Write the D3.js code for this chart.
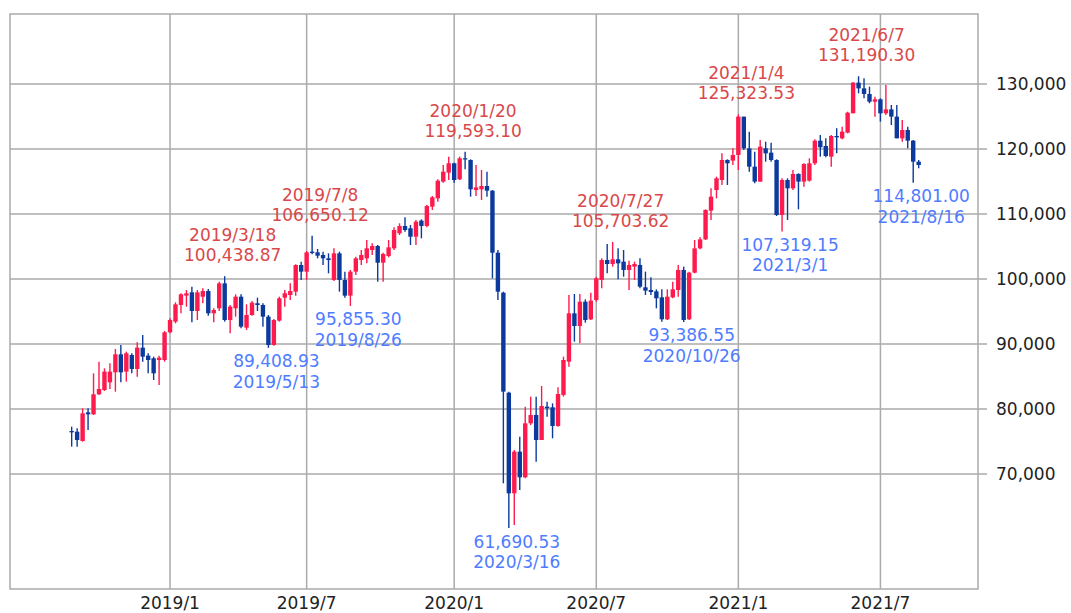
<!DOCTYPE html>
<html>
<head>
<meta charset="utf-8">
<script src="https://cdn.jsdelivr.net/npm/d3@7"></script>
<style>
  body { margin: 0; background: #fff; }
  text { font-family: "DejaVu Sans", Verdana, sans-serif; }
</style>
</head>
<body>
<div id="chart"></div>
<script>
// weekly candles, first week 2018/9/3, last week 2021/8/23
const firstWeek = "2018/9/3";
const lastWeek = "2021/8/23";

const open = [76620,76510,75080,79490,79180,82260,82920,84100,85640,88410,
  85750,88310,86160,89440,88210,87800,87540,87540,91800,93440,
  96000,97440,97950,95080,97280,98150,94720,95490,99330,93690,
  95490,97280,92510,94460,96260,96000,94210,89850,93590,97130,
  97540,98050,102150,101130,104210,104100,103690,103180,99850,103950,
  99850,97440,101130,102920,103180,104460,105080,102510,103540,104720,
  107030,108160,107800,106510,108980,108160,111130,112410,114980,116360,
  117800,115330,118570,118310,113690,113800,114310,113590,104050,97900,
  82510,67030,73440,69490,77800,79080,75230,80360,80260,77390,
  82160,87280,94720,92770,96510,93800,96770,99850,102920,102310,
  103030,102670,101390,101900,102160,98720,98310,98100,97180,93800,
  97180,98310,101390,93800,100980,104720,106100,110510,113690,115230,
  118310,118210,119080,124980,120100,117280,114980,120100,119440,118310,
  109850,115230,113950,116160,114980,115130,117800,121280,120460,118820,
  122000,121640,122510,125490,130210,129330,128460,127280,127640,125490,
  126100,124980,121640,122920,121280,118050];

const high = [77280,77030,80100,80100,85490,87280,86260,87030,89230,89850,
  88820,88570,90260,91390,88570,88050,88210,92000,93950,96410,
  97800,98310,98820,98310,98570,98460,95490,99590,100438.87,96000,
  97640,97640,96100,96620,97130,96260,94460,93850,97280,98310,
  99330,102260,102670,104310,106650.12,104620,104210,103950,104720,104210,
  101130,101390,103440,104460,106000,105490,105230,104050,106000,107950,
  108570,109490,108310,109080,109180,111390,112770,115330,117540,118820,
  117900,118820,119593.10,118410,117540,116770,116510,113690,104460,98050,
  82670,73690,75750,80360,81900,81900,83540,81130,80870,83360,
  88050,97540,97690,97690,96870,97900,100360,103180,105390,105703.62,
  104720,104460,102820,102670,103180,101130,100260,98410,98410,98410,
  99590,102150,101900,101130,106000,106410,110720,113950,115740,119330,
  118410,120100,125323.53,124980,122670,119590,121390,121130,120980,118410,
  115490,115490,116770,116260,117800,118570,121490,122150,121640,122150,
  123180,123440,125740,130310,131190.30,130870,129590,128050,127800,129850,
  126770,126770,124460,123440,121390,118310];

const low = [74210,74210,74980,76770,79080,82160,82770,83080,82670,84100,
  84210,85490,84980,87280,85490,84460,83690,87280,91640,93180,
  94720,95740,93330,93690,96260,94360,93330,95080,93440,91640,
  94210,92410,92160,94360,95080,92670,89408.93,89750,93440,95740,
  96770,97440,99850,99850,103800,103180,102150,100870,99690,98050,
  97130,95855.30,100620,102160,102410,103690,99590,99590,103330,104460,
  106770,107280,105230,105230,106260,107950,110620,111900,114820,115230,
  114820,115230,116870,112670,112770,112160,112670,100100,96770,68570,
  61690.53,62160,67540,69330,77540,71900,75230,78820,75490,77280,
  81900,86510,90360,90100,93280,93690,96510,98570,100870,101900,
  99950,100360,98310,99850,98570,97540,97540,95490,93440,93690,
  97030,97280,93386.55,93690,100870,104570,106000,109080,112410,114460,
  114460,117540,116770,119850,116510,114720,114980,118050,118050,109690,
  107319.15,109080,113690,110720,114210,114980,117540,118820,118720,117280,
  119330,121490,122410,125490,128560,127800,127030,124980,124210,125230,
  123690,121640,121130,120100,114801.00,117030];

const close = [76410,75230,79330,79180,82260,83080,85750,85750,88410,85640,
  88570,86160,89440,88050,87540,85490,87900,91800,93690,96100,
  97640,97800,95080,97950,98150,94720,95230,99330,93690,95750,
  97280,92670,94460,96360,96000,94210,89850,93690,97030,97800,
  98150,102150,101130,104100,104000,103590,103180,102920,103950,99850,
  97440,101130,103180,103690,104720,105080,102510,103850,104870,107540,
  108160,107540,106510,108820,108160,111230,112570,115130,116510,117800,
  115230,118570,118410,113800,114100,114310,113590,104050,98050,82670,
  67030,73440,69490,77800,79080,75230,80460,80100,77390,82310,
  87540,94720,92770,96510,93690,96670,100100,102920,102310,103030,
  102410,101390,102160,102310,98820,98210,98000,97030,93800,97280,
  98410,101390,93690,100980,104720,106100,110620,112670,115490,118310,
  117800,119080,124980,120100,117280,114980,120360,119330,118310,109850,
  115230,113950,116160,114980,117690,117800,121280,120260,118920,122000,
  121800,122670,125590,130210,129330,128460,127280,127640,125490,126100,
  124980,121640,122920,121280,118050,117540];

const highNotes = [
  ["2019/3/18", "100,438.87"], ["2019/7/8", "106,650.12"], ["2020/1/20", "119,593.10"],
  ["2020/7/27", "105,703.62"], ["2021/1/4", "125,323.53"], ["2021/6/7", "131,190.30"]
];
const lowNotes = [
  ["2019/5/13", "89,408.93"], ["2019/8/26", "95,855.30"], ["2020/3/16", "61,690.53"],
  ["2020/10/26", "93,386.55"], ["2021/3/1", "107,319.15"], ["2021/8/16", "114,801.00"]
];

const xTickDates = ["2019/1/7", "2019/7/1", "2020/1/6", "2020/7/6", "2021/1/4", "2021/7/5"];
const xTickLabels = ["2019/1", "2019/7", "2020/1", "2020/7", "2021/1", "2021/7"];
const yTicks = [70000, 80000, 90000, 100000, 110000, 120000, 130000];

const width = 1071, height = 613;
const plotL = 10, plotR = 978, plotT = 14, plotB = 589;
const upColor = "#ff1a4d", downColor = "#0b3a9c";
const upText = "#d9484a", downText = "#4f7cff";

const parse = d3.timeParse("%Y/%-m/%-d");
const weeks = d3.timeMonday.range(parse(firstWeek), d3.timeDay.offset(parse(lastWeek), 1));
const data = weeks.map((d, i) => ({date: d, o: open[i], h: high[i], l: low[i], c: close[i]}));

const x = d3.scaleTime()
  .domain([new Date(2018, 5, 16), new Date(2021, 10, 7)])
  .range([plotL, plotR]);
const y = d3.scaleLinear()
  .domain([52308, 140769])
  .range([plotB, plotT]);

const svg = d3.select("#chart").append("svg")
  .attr("width", width)
  .attr("height", height);

svg.append("rect").attr("width", width).attr("height", height).attr("fill", "#fff");

const grid = svg.append("g").attr("stroke", "#aaa").attr("stroke-width", 1.5);
grid.selectAll(".vx")
  .data(xTickDates)
  .enter().append("line")
  .attr("x1", d => x(parse(d))).attr("x2", d => x(parse(d)))
  .attr("y1", plotT).attr("y2", plotB);
grid.selectAll(".hy")
  .data(yTicks)
  .enter().append("line")
  .attr("x1", plotL).attr("x2", plotR + 9)
  .attr("y1", d => y(d)).attr("y2", d => y(d));
grid.append("rect")
  .attr("x", plotL).attr("y", plotT)
  .attr("width", plotR - plotL).attr("height", plotB - plotT)
  .attr("fill", "none");

svg.append("g").selectAll("text")
  .data(yTicks)
  .enter().append("text")
  .attr("x", 996).attr("y", d => y(d))
  .attr("dy", "0.36em")
  .attr("font-size", 17)
  .attr("fill", "#222")
  .text(d => d3.format(",")(d));

svg.append("g").selectAll("text")
  .data(xTickDates)
  .enter().append("text")
  .attr("x", d => x(parse(d))).attr("y", 609)
  .attr("text-anchor", "middle")
  .attr("font-size", 17)
  .attr("fill", "#222")
  .text((d, i) => xTickLabels[i]);

const bw = 4.4;
const candles = svg.append("g").selectAll("g")
  .data(data)
  .enter().append("g")
  .attr("fill", d => d.c >= d.o ? upColor : downColor)
  .attr("stroke", d => d.c >= d.o ? upColor : downColor);

candles.append("line")
  .attr("x1", d => x(d.date)).attr("x2", d => x(d.date))
  .attr("y1", d => y(d.h)).attr("y2", d => y(d.l))
  .attr("stroke-width", 1.4);

candles.append("rect")
  .attr("x", d => x(d.date) - bw / 2)
  .attr("y", d => y(Math.max(d.o, d.c)))
  .attr("width", bw)
  .attr("height", d => Math.max(1.2, Math.abs(y(d.o) - y(d.c))))
  .attr("stroke", "none");

const toNum = s => +s.replace(/,/g, "");

const hi = svg.append("g").attr("fill", upText).attr("font-size", 17).attr("text-anchor", "middle");
highNotes.forEach(([d, v]) => {
  const cx = x(parse(d)) + 8, cy = y(toNum(v));
  hi.append("text").attr("x", cx).attr("y", cy - 35).text(d);
  hi.append("text").attr("x", cx).attr("y", cy - 15).text(v);
});

const lo = svg.append("g").attr("fill", downText).attr("font-size", 17).attr("text-anchor", "middle");
lowNotes.forEach(([d, v]) => {
  const cx = x(parse(d)) + 8, cy = y(toNum(v));
  lo.append("text").attr("x", cx).attr("y", cy + 19.5).text(v);
  lo.append("text").attr("x", cx).attr("y", cy + 40).text(d);
});
</script>
</body>
</html>
